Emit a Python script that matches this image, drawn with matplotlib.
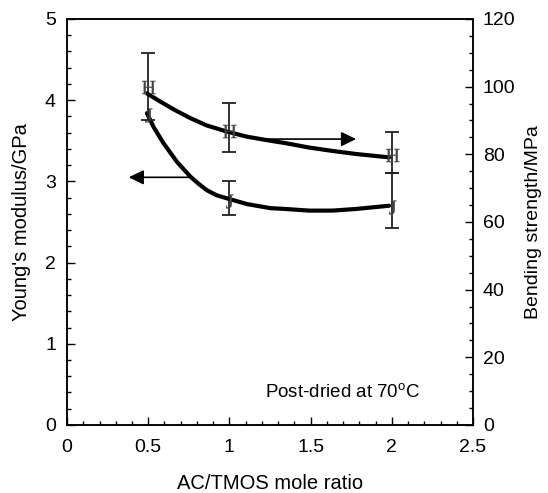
import numpy as np
import matplotlib
matplotlib.use("Agg")
import matplotlib.pyplot as plt
from matplotlib.ticker import MultipleLocator
from matplotlib.textpath import TextPath
from matplotlib.font_manager import FontProperties

plt.rcParams['font.family'] = ['Liberation Sans', 'DejaVu Sans']
plt.rcParams['font.size'] = 14
plt.rcParams['mathtext.fontset'] = 'custom'
plt.rcParams['mathtext.rm'] = 'Liberation Sans'

#===============================================================================
# data
#===============================================================================
ratio = [0.5, 1.0, 2.0]

# Young's modulus (left axis, "J" markers)
modulus = [3.82, 2.76, 2.69]
modulus_err_lo = [0.0, 0.17, 0.26]
modulus_err_hi = [0.0, 0.24, 0.41]

# bending strength (right axis, "H" markers)
strength = [100.0, 87.0, 79.8]
strength_err_lo = [9.8, 6.2, 5.4]
strength_err_hi = [9.8, 8.1, 6.7]

# smooth guide curves
modulus_curve_x = [0.492, 0.533, 0.594, 0.677, 0.759, 0.81, 0.862, 0.92, 0.986,
                   1.109, 1.253, 1.346, 1.49, 1.634, 1.778, 1.983]
modulus_curve_y = [3.84, 3.67, 3.47, 3.24, 3.06, 2.97, 2.89, 2.83, 2.79,
                   2.72, 2.67, 2.66, 2.64, 2.64, 2.66, 2.70]
strength_curve_x = [0.492, 0.574, 0.656, 0.759, 0.862, 0.986, 1.109, 1.253,
                    1.346, 1.49, 1.634, 1.778, 1.983]
strength_curve_y = [98.0, 95.6, 93.3, 90.7, 88.5, 86.7, 85.2, 84.0,
                    83.3, 82.0, 81.0, 80.1, 79.1]

#===============================================================================
# glyph markers (the original uses serif letters as symbols)
#===============================================================================
serif = FontProperties(family='Liberation Serif')
def glyph(ch):
    p = TextPath((0, 0), ch, prop=serif, size=10)
    v = p.vertices
    cx = (v[:, 0].min() + v[:, 0].max()) / 2.
    cy = (v[:, 1].min() + v[:, 1].max()) / 2.
    return TextPath((-cx, -cy), ch, prop=serif, size=10)

def with_err(x, y, lo, hi):
    # keep only the points that carry an error bar
    keep = [i for i in range(len(x)) if lo[i] > 0 or hi[i] > 0]
    return ([x[i] for i in keep], [y[i] for i in keep],
            [[lo[i] for i in keep], [hi[i] for i in keep]])

fig = plt.figure(figsize=(5.48, 4.93), dpi=100)
ax = fig.add_axes([0.1223, 0.138, 0.7409, 0.8235])
ax2 = ax.twinx()

lw_axis = 1.1
for a in (ax, ax2):
    for s in a.spines.values():
        s.set_linewidth(lw_axis)

# left axis: modulus
ax.plot(modulus_curve_x, modulus_curve_y, color='black', lw=3.0,
        solid_capstyle='round', solid_joinstyle='round', zorder=3)
ex, ey, eerr = with_err(ratio, modulus, modulus_err_lo, modulus_err_hi)
ax.errorbar(ex, ey, yerr=eerr, fmt='none',
            ecolor='#222222', elinewidth=1.3, capsize=5, capthick=1.3, zorder=2)
ax.plot(ratio, modulus, ls='none', marker=glyph('J'), ms=10, color='#444444',
        mew=0.2, zorder=4)

# right axis: strength
ax2.plot(strength_curve_x, strength_curve_y, color='black', lw=3.0,
         solid_capstyle='round', solid_joinstyle='round', zorder=3)
ex, ey, eerr = with_err(ratio, strength, strength_err_lo, strength_err_hi)
ax2.errorbar(ex, ey, yerr=eerr, fmt='none',
             ecolor='#222222', elinewidth=1.3, capsize=5, capthick=1.3, zorder=2)
ax2.plot(ratio, strength, ls='none', marker=glyph('H'), ms=10, color='#444444',
         mew=0.2, zorder=4)

# arrows pointing to the axis each curve belongs to
head = '-|>,head_length=0.45,head_width=0.22'
ax.annotate('', xy=(0.38, 3.05), xytext=(0.76, 3.05),
            arrowprops=dict(arrowstyle=head, color='black', lw=1.2,
                            mutation_scale=20, shrinkA=0, shrinkB=0))
ax2.annotate('', xy=(1.78, 84.5), xytext=(1.235, 84.5),
             arrowprops=dict(arrowstyle=head, color='black', lw=1.2,
                             mutation_scale=20, shrinkA=0, shrinkB=0))

ax.text(1.22, 0.33, 'Post-dried at 70$^{\\mathrm{o}}$C', fontsize=13.5)

ax.set_xlim(0, 2.5)
ax.set_ylim(0, 5)
ax2.set_ylim(0, 120)

ax.xaxis.set_major_locator(MultipleLocator(0.5))
ax.xaxis.set_minor_locator(MultipleLocator(0.1))
ax.yaxis.set_major_locator(MultipleLocator(1))
ax.yaxis.set_minor_locator(MultipleLocator(0.2))
ax2.yaxis.set_major_locator(MultipleLocator(20))
ax2.yaxis.set_minor_locator(MultipleLocator(5))
ax.xaxis.set_major_formatter(plt.FuncFormatter(lambda v, p: ('%g' % v)))

ax.tick_params(which='both', direction='in', width=1.0, top=False, right=False)
ax.tick_params(which='major', length=6, pad=8)
ax.tick_params(axis='x', which='major', pad=10)
ax.tick_params(which='minor', length=3)
ax2.tick_params(which='both', direction='in', width=1.0)
ax2.tick_params(which='major', length=6, pad=7)
ax2.tick_params(which='minor', length=3)

ax.set_xlabel('AC/TMOS mole ratio', fontsize=14.5, labelpad=13)
ax.set_ylabel("Young's modulus/GPa", fontsize=14.5, labelpad=10)
ax2.set_ylabel('Bending strength/MPa', fontsize=14, labelpad=7)

fig.savefig('out.png', dpi=100)
